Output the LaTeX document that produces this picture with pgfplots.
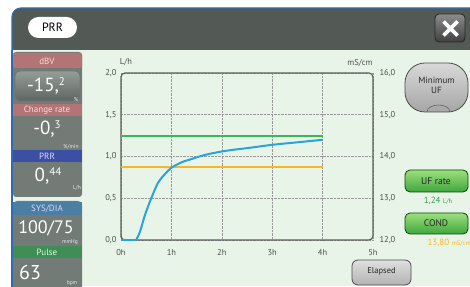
\documentclass[border=0pt]{standalone}
\usepackage{fontspec}
\setmainfont{PT Sans}
\usepackage{pgfplots}
\pgfplotsset{compat=1.18}
\definecolor{hdr}{HTML}{535A56}
\definecolor{panel}{HTML}{E9F4E9}
\definecolor{side}{HTML}{737B77}
\definecolor{redh}{HTML}{B27474}
\definecolor{blueh}{HTML}{3B50A3}
\definecolor{steelh}{HTML}{4A7EA2}
\definecolor{greenh}{HTML}{3E8E55}
\definecolor{fblue}{HTML}{2F6DB3}
\definecolor{curveblue}{HTML}{29A3DD}
\definecolor{condor}{HTML}{F8B624}
\definecolor{frm}{HTML}{5A5F5C}
\definecolor{tickc}{HTML}{4A4F4C}
\definecolor{boxtop}{HTML}{959D99}
\definecolor{boxbot}{HTML}{5E6662}
\definecolor{btntop}{HTML}{9BE07E}
\definecolor{btnbot}{HTML}{3FA63C}
\newcommand{\bigv}[2]{{\fontsize{19}{19}\selectfont #1,}\raisebox{6pt}{\fontsize{11}{11}\selectfont #2}}
\begin{document}
\begin{tikzpicture}[font=\fontsize{8}{9}\selectfont]
\useasboundingbox (0,0) rectangle (470pt,286pt);
\fill[white] (0,0) rectangle (470pt,286pt);
\begin{scope}[x=1pt,y=-1pt,shift={(0pt,286pt)}]
% header and panel
\fill[hdr, rounded corners=9pt] (12,8) rectangle (490,80);
\fill[panel] (12,50) rectangle (470,286);
\draw[fblue, line width=1.2pt, rounded corners=9pt] (12,300) -- (12,8) -- (490,8);
% PRR pill
\node[fill=white, rounded corners=10.5pt, minimum width=49pt, minimum height=21pt, inner sep=0pt, font=\fontsize{12}{12}\selectfont] at (52.5,27.5) {PRR};
% close button
\node[draw=black!85, line width=0.8pt, top color=black!45, bottom color=black!75, rounded corners=4pt, minimum width=30pt, minimum height=28pt, inner sep=0pt] at (450,28) {};
\draw[white, line width=3.6pt] (443.5,21.5) -- (457.5,35.5) (457.5,21.5) -- (443.5,35.5);
% left column
\fill[side, rounded corners=3pt] (13,52) rectangle (82,197);
\fill[redh, rounded corners=2pt] (13,53) rectangle (82,68);
\node[text=red!15!white, font=\fontsize{9}{9}\selectfont] at (47,61) {dBV};
\draw[draw=black!55, line width=0.7pt, top color=boxtop, bottom color=boxbot, rounded corners=5pt] (15,71) rectangle (80,101);
\node[text=white] at (46,86) {\bigv{-15}{2}};
\node[text=white!85!gray, font=\fontsize{5.5}{6}\selectfont] at (76,99.5) {\%};
\fill[redh] (13,104) rectangle (82,116);
\node[text=red!15!white, font=\fontsize{9}{9}\selectfont] at (47,110) {Change rate};
\node[text=white] at (47,129) {\bigv{-0}{3}};
\node[text=white!85!gray, font=\fontsize{5.5}{6}\selectfont] at (71,146.5) {\%/min};
\fill[blueh] (13,150) rectangle (82,162);
\node[text=white!85!blue, font=\fontsize{9}{9}\selectfont] at (47,156) {PRR};
\node[text=white] at (48,176) {\bigv{0}{44}};
\node[text=white!85!gray, font=\fontsize{5.5}{6}\selectfont] at (77,188) {L/h};
\fill[side, rounded corners=4pt] (13,201) rectangle (82,300);
\fill[steelh] (13,202.5) rectangle (81.5,215);
\node[text=white!85!blue, font=\fontsize{9}{9}\selectfont] at (47,208.5) {SYS/DIA};
\node[text=white, font=\fontsize{18}{18}\selectfont] at (46,228) {100/75};
\node[text=white!85!gray, font=\fontsize{5.5}{6}\selectfont] at (70,242) {mmHg};
\fill[greenh] (13,246) rectangle (82,258);
\node[text=white!85!green, font=\fontsize{9}{9}\selectfont] at (47,252) {Pulse};
\node[text=white, font=\fontsize{20}{20}\selectfont] at (30,272) {63};
\node[text=white!85!gray, font=\fontsize{5.5}{6}\selectfont] at (72,283) {bpm};
\draw[fblue, line width=1.2pt] (12,50) -- (12,300);
% axis units
\node[text=tickc, font=\fontsize{8.5}{9}\selectfont] at (126,62) {L/h};
\node[text=tickc, font=\fontsize{8.5}{9}\selectfont] at (360,63) {mS/cm};
% right buttons
\draw[draw=black!70, line width=0.8pt, top color=gray!30, bottom color=gray!70, rounded corners=20pt] (405,63) rectangle (468,112);
\draw[black!60, line width=0.6pt] (427,112) arc[start angle=180, end angle=360, x radius=11.5, y radius=7];
\node[text=black!85, align=center, font=\fontsize{9}{10}\selectfont] at (436.5,85) {Minimum\\UF};
\draw[draw=green!30!black, line width=0.8pt, top color=btntop, bottom color=btnbot, rounded corners=5pt] (405,170) rectangle (468,192);
\node[text=black!85, font=\fontsize{9.5}{10}\selectfont] at (436,181) {UF rate};
\node[text={rgb,255:red,52;green,160;blue,80}, font=\fontsize{9}{10}\selectfont] at (438,200.5) {1,24 {\fontsize{6.5}{7}\selectfont L/h}};
\draw[draw=green!30!black, line width=0.8pt, top color=btntop, bottom color=btnbot, rounded corners=5pt] (405,213) rectangle (468,234);
\node[text=black!85, font=\fontsize{9.5}{10}\selectfont] at (436,223.5) {COND};
\node[text=condor, anchor=west, font=\fontsize{9}{10}\selectfont] at (424,243) {13,80 {\fontsize{6.5}{7}\selectfont mS/cm}};
\draw[draw=black!70, line width=0.8pt, top color=gray!25, bottom color=gray!60, rounded corners=6pt] (352,260) rectangle (411,285);
\node[text=black!85, font=\fontsize{8.5}{9}\selectfont] at (381.5,271.5) {Elapsed};
\end{scope}
% main axis
\begin{axis}[
  at={(121pt,46pt)}, anchor=south west,
  width=252pt, height=167pt, scale only axis,
  xmin=0, xmax=5, ymin=0, ymax=2,
  axis line style={draw=frm, line width=1.2pt, rounded corners=4pt},
  major tick length=0pt,
  xtick={0,1,2,3,4,5}, xticklabels={0h,1h,2h,3h,4h,5h},
  ytick={0,0.5,1,1.5,2},
  ticklabel style={font=\fontsize{8.5}{9}\selectfont, text=tickc},
  xticklabel shift=6pt,
  yticklabel shift=1pt,
  yticklabel style={/pgf/number format/.cd, fixed, fixed zerofill, precision=1, use comma, assume math mode=true},
  grid=major, grid style={densely dotted, gray!80, line width=0.5pt},
  clip=false,
]
\addplot[draw={rgb,255:red,61;green,181;blue,90}, line width=2pt] table {
x y
0 1.25
4 1.25
};
\addplot[draw=condor, line width=2pt] table {
x y
0 0.875
4 0.875
};
\addplot[draw=curveblue, line width=2pt] coordinates {(0,0) (0.3,0)};
\addplot[draw=curveblue, line width=2pt, smooth, tension=0.5] coordinates {
(0.3,0) (0.377,0.10) (0.476,0.30) (0.61,0.515) (0.74,0.69) (0.873,0.79) (1.0,0.865) (1.2,0.93) (1.4,0.97) (1.67,1.02) (2.0,1.06) (2.26,1.083) (2.5,1.10) (3.0,1.14) (3.5,1.17) (4.0,1.20)};
\end{axis}
% right axis
\begin{axis}[
  at={(121pt,46pt)}, anchor=south west,
  width=252pt, height=167pt, scale only axis,
  xmin=0, xmax=5, ymin=12, ymax=16,
  axis x line=none, axis y line*=right,
  axis line style={draw=none},
  major tick length=0pt,
  ytick={12,13,14,15,16},
  ticklabel style={font=\fontsize{8.5}{9}\selectfont, text=tickc},
  yticklabel shift=3pt,
  yticklabel style={/pgf/number format/.cd, fixed, fixed zerofill, precision=1, use comma, assume math mode=true},
]
\addplot[draw=none] coordinates {(0,12) (5,16)};
\end{axis}
\end{tikzpicture}
\end{document}
